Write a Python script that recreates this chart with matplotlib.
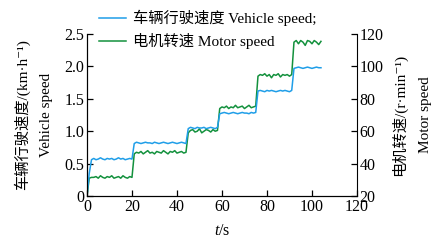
import matplotlib
matplotlib.use('Agg')
import matplotlib.pyplot as plt

plt.rcParams['font.family'] = ['Liberation Serif', 'Noto Sans CJK SC', 'DejaVu Serif']
plt.rcParams['mathtext.fontset'] = 'custom'
plt.rcParams['mathtext.rm'] = 'Liberation Serif'
plt.rcParams['mathtext.it'] = 'Liberation Serif:italic'

# time, s
t = list(range(0, 105))

# vehicle speed, km/h (left axis)
vehicle = ([0.0, 0.35, 0.56]
           + [0.58, 0.56, 0.57, 0.59, 0.57, 0.56, 0.58, 0.57, 0.58, 0.56,
              0.57, 0.59, 0.57, 0.58, 0.56, 0.57, 0.58, 0.57]
           + [0.81, 0.83, 0.82, 0.81, 0.82, 0.83, 0.82, 0.82, 0.81, 0.83,
              0.82, 0.81, 0.82, 0.83, 0.82, 0.81, 0.82, 0.83, 0.82, 0.81,
              0.82, 0.83, 0.82, 0.81]
           + [1.04, 1.06, 1.05, 1.04, 1.06, 1.05, 1.05, 1.06, 1.04, 1.05,
              1.06, 1.05, 1.04, 1.06]
           + [1.27, 1.28, 1.29, 1.28, 1.27, 1.28, 1.29, 1.28, 1.27, 1.28,
              1.29, 1.28, 1.28, 1.27, 1.29, 1.28, 1.29]
           + [1.62, 1.63, 1.62, 1.61, 1.63, 1.62, 1.63, 1.62, 1.61, 1.62,
              1.63, 1.62, 1.63, 1.62, 1.61, 1.63]
           + [1.97, 1.98, 1.99, 1.98, 1.97, 1.98, 1.99, 1.98, 1.97, 1.98,
              1.99, 1.98, 1.98])

# motor speed, r/min (right axis)
motor = ([20, 31, 31.5]
         + [31.5, 32, 31, 32.5, 31.5, 31, 32, 31.5, 32.5, 31,
            31.5, 32, 31, 32.5, 31.5, 31, 32, 31.5]
         + [46, 47, 46.5, 47.5, 46, 47, 48, 46.5, 47, 46,
            47.5, 47, 46.5, 48, 47, 46, 47.5, 47, 48, 46.5,
            47, 47.5, 46.5, 47]
         + [59, 60.5, 61, 59.5, 60, 61.5, 59, 60, 61, 60.5,
            59.5, 61, 60, 60.5]
         + [74, 75, 74.5, 75.5, 74, 75, 74.5, 76, 74.5, 75,
            75.5, 74, 75, 76, 74.5, 75, 75.5]
         + [94, 95, 94.5, 95.5, 94, 95, 93, 95, 94.5, 95.5,
            93.5, 95, 94.5, 95, 94, 95]
         + [115, 116, 114, 116, 115, 113, 116, 115.5, 114, 116,
            115, 113.5, 115.5])

blue = '#1f9ee8'
green = '#13913d'

fig = plt.figure(figsize=(4.38, 2.45), dpi=100)
ax = fig.add_axes([0.1986, 0.2, 0.6164, 0.661])
ax2 = ax.twinx()

l1, = ax.plot(t, vehicle, color=blue, lw=1.1)
l2, = ax2.plot(t, motor, color=green, lw=1.1)
ax.set_zorder(ax2.get_zorder() + 1)
ax.patch.set_visible(False)

ax.set_xlim(0, 120)
ax.set_ylim(0, 2.5)
ax2.set_ylim(20, 120)
ax.set_xticks(range(0, 121, 20))
ax.set_yticks([0, 0.5, 1.0, 1.5, 2.0, 2.5])
ax.set_yticklabels(['0', '0.5', '1.0', '1.5', '2.0', '2.5'])
ax2.set_yticks(range(20, 121, 20))

for a in (ax, ax2):
    a.spines['top'].set_visible(False)
    a.tick_params(direction='in', length=4, width=0.9, labelsize=11.5, pad=2)
ax.spines['right'].set_visible(False)

ax.set_xlabel('$t$/s', fontsize=11.5, labelpad=6)
ax.set_ylabel('车辆行驶速度/(km·h⁻¹)\nVehicle speed', fontsize=11,
              linespacing=2.0, labelpad=8)
ax2.set_ylabel('电机转速/(r·min⁻¹)\nMotor speed', fontsize=11,
               linespacing=2.2, rotation=90, labelpad=5)

fig.legend([l1, l2], ['车辆行驶速度 Vehicle speed;', '电机转速 Motor speed'],
           loc='upper left', bbox_to_anchor=(0.205, 0.997), frameon=False,
           fontsize=11, handlelength=1.8, handletextpad=0.45,
           labelspacing=0.45, borderaxespad=0.2)

fig.savefig('out.png', dpi=100)
